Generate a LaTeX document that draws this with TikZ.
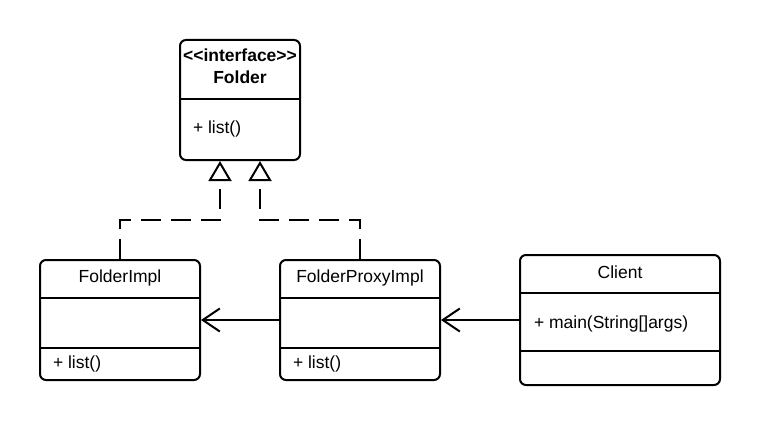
\documentclass[tikz,border=0pt]{standalone}
\usepackage{fontspec}
\setmainfont{Liberation Sans}
\usetikzlibrary{arrows.meta}
\begin{document}
\begin{tikzpicture}[x=1pt,y=-1pt,
  line width=2pt,
  umlbox/.style={draw=black, fill=white, rounded corners=6pt, inner sep=0pt},
  lbl/.style={inner sep=0pt, font=\fontsize{17.5}{21}\selectfont},
  realize/.style={dash pattern=on 20pt off 10pt, -{Triangle[length=20pt,width=23pt,fill=white]}},
  assoc/.style={-{Straight Barb[length=17pt,width=23pt]}}
]
\useasboundingbox (0,0) rectangle (760,425);
% boxes
\node[umlbox, minimum width=120pt, minimum height=120pt] (folder) at (240,100) {};
\node[umlbox, minimum width=160pt, minimum height=120pt] (fimpl) at (120,320) {};
\node[umlbox, minimum width=160pt, minimum height=120pt] (fproxy) at (360,320) {};
\node[umlbox, minimum width=200pt, minimum height=130pt] (client) at (620,320) {};
% dividers
\draw (folder.west |- 0,99) -- (folder.east |- 0,99);
\draw (fimpl.west |- 0,298) -- (fimpl.east |- 0,298);
\draw (fimpl.west |- 0,348) -- (fimpl.east |- 0,348);
\draw (fproxy.west |- 0,298) -- (fproxy.east |- 0,298);
\draw (fproxy.west |- 0,348) -- (fproxy.east |- 0,348);
\draw (client.west |- 0,293) -- (client.east |- 0,293);
\draw (client.west |- 0,351) -- (client.east |- 0,351);
% texts
\node[lbl, anchor=base, font=\fontsize{17.5}{21}\selectfont\bfseries] (t1) at (240,62) {{<}{<}interface{>}{>}};
\node[lbl, anchor=base, font=\fontsize{17.5}{21}\selectfont\bfseries] (t2) at (240,84) {Folder};
\node[lbl, anchor=base west] (t3) at (192,134) {+ list()};
\node[lbl, anchor=base] (t4) at (120,282) {FolderImpl};
\node[lbl, anchor=base west] (t5) at (52,368) {+ list()};
\node[lbl, anchor=base] (t6) at (360,282) {FolderProxyImpl};
\node[lbl, anchor=base west] (t7) at (292,368) {+ list()};
\node[lbl, anchor=base] (t8) at (620,278) {Client};
\node[lbl, anchor=base west] (t9) at (533,328) {+ main(String[]args)};
% realization connectors
\draw[realize] (fimpl.north) |- ([xshift=-20pt,yshift=-59pt]folder.south) -- ([xshift=-20pt]folder.south);
\draw[realize] (fproxy.north) |- ([xshift=20pt,yshift=-59pt]folder.south) -- ([xshift=20pt]folder.south);
% associations
\draw[assoc] (fproxy.west) -- (fimpl.east);
\draw[assoc] (client.west) -- (fproxy.east);
\end{tikzpicture}
\end{document}
